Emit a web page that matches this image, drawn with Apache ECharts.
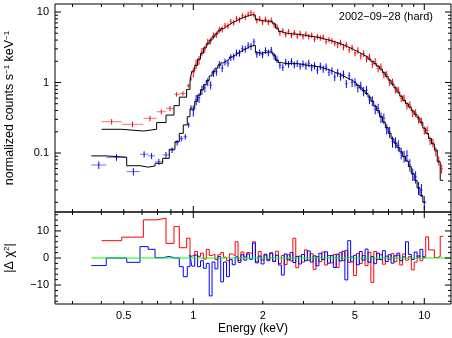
<!DOCTYPE html>
<html>
<head>
<meta charset="utf-8">
<script src="https://cdn.jsdelivr.net/npm/echarts@6/dist/echarts.min.js"></script>
<style>
  html, body { margin: 0; padding: 0; background: #fff; }
  #chart { width: 452px; height: 338px; }
</style>
</head>
<body>
<div id="chart"></div>
<script>
// ---------- data ----------
// fine bins above 1 keV, bin centres in keV
const energy = [
  1.000, 1.029, 1.059, 1.090, 1.122, 1.155, 1.189, 1.223, 1.259, 1.296,
  1.334, 1.372, 1.413, 1.454, 1.496, 1.540, 1.585, 1.631, 1.679, 1.728,
  1.778, 1.830, 1.884, 1.939, 1.995, 2.054, 2.113, 2.175, 2.239, 2.304,
  2.371, 2.441, 2.512, 2.585, 2.661, 2.738, 2.818, 2.901, 2.985, 3.073,
  3.162, 3.255, 3.350, 3.447, 3.548, 3.652, 3.758, 3.868, 3.981, 4.097,
  4.217, 4.340, 4.467, 4.597, 4.732, 4.870, 5.012, 5.158, 5.309, 5.464,
  5.623, 5.788, 5.957, 6.131, 6.310, 6.494, 6.683, 6.879, 7.079, 7.286,
  7.499, 7.718, 7.943, 8.175, 8.414, 8.660, 8.913, 9.173, 9.441, 9.716,
  10.00, 10.29, 10.59, 10.90, 11.22, 11.55, 11.89
]

// red spectrum
const redCounts = [
  1.40, 1.82, 2.08, 2.72, 2.98, 3.72, 3.88, 4.62, 4.78, 5.62,
  5.68, 6.45, 6.35, 7.32, 7.05, 8.05, 7.75, 8.85, 8.45, 9.35,
  9.75, 9.20, 7.55, 8.05, 7.20, 7.85, 7.15, 7.65, 6.55, 6.15,
  5.05, 5.45, 4.80, 5.25, 4.68, 5.10, 4.55, 4.98, 4.48, 4.88,
  4.48, 4.70, 4.12, 4.50, 4.30, 4.42, 3.80, 4.05, 3.90, 3.60,
  3.42, 3.68, 3.18, 3.42, 2.92, 3.12, 2.62, 2.85, 2.38, 2.58,
  2.16, 2.30, 1.82, 1.98, 1.58, 1.66, 1.30, 1.30, 1.01, 1.01,
  0.79, 0.78, 0.60, 0.60, 0.47, 0.48, 0.37, 0.37, 0.30, 0.28,
  0.21, 0.21, 0.15, 0.14, 0.105, 0.078, 0.060
]
const redErrPct = [
  16, 15, 14, 13, 12, 12, 11, 11, 10, 10,
  10, 9, 9, 9, 9, 9, 9, 9, 9, 9,
  9, 9, 9, 9, 9, 9, 9, 9, 9, 9,
  9, 9, 9, 9, 9, 9, 9, 9, 9, 9,
  9, 9, 9, 9, 9, 9, 9, 9, 9, 9,
  10, 10, 10, 10, 10, 10, 10, 11, 11, 11,
  11, 11, 12, 12, 12, 12, 12, 12, 12, 12,
  12, 12, 12, 12, 12, 13, 13, 13, 13, 13,
  13, 14, 14, 14, 15, 15, 15
]
const redModel = [
  1.45, 1.75, 2.15, 2.6, 3.1, 3.55, 4.0, 4.45, 4.9, 5.4,
  5.85, 6.2, 6.6, 7.0, 7.35, 7.7, 8.05, 8.4, 8.7, 8.95,
  9.15, 9.0, 7.8, 7.6, 7.5, 7.45, 7.4, 7.3, 6.8, 5.9,
  5.3, 5.1, 5.0, 4.95, 4.9, 4.87, 4.8, 4.75, 4.7, 4.62,
  4.55, 4.48, 4.42, 4.35, 4.25, 4.15, 4.05, 3.95, 3.83, 3.72,
  3.6, 3.48, 3.35, 3.22, 3.08, 2.95, 2.8, 2.67, 2.53, 2.4,
  2.3, 2.15, 2.0, 1.85, 1.7, 1.55, 1.38, 1.22, 1.08, 0.95,
  0.84, 0.73, 0.64, 0.56, 0.50, 0.45, 0.395, 0.35, 0.315, 0.27,
  0.225, 0.19, 0.16, 0.135, 0.11, 0.075, 0.041
]
const redResid = [
  1.0, 2.4, 0.6, 1.8, -0.4, 3.2, 0.9, 1.5, -0.6, 1.2,
  2.0, 0.3, -1.0, 1.5, 0.8, 6.0, -0.9, 2.2, 0.4, 2.0,
  1.6, 6.0, -1.4, 2.4, -0.8, 1.1, -0.5, 1.8, -1.2, 2.5,
  -2.0, 0.9, -2.4, 1.2, -1.1, 7.3, -3.6, 0.7, -1.5, 3.0,
  -0.8, 1.6, -4.2, 0.5, -1.4, 2.2, -2.6, 0.9, -1.8, 1.3,
  -3.5, 2.0, -1.0, 2.8, -1.6, 0.4, -6.5, 1.7, -2.0, 0.9,
  -2.8, 2.1, -9.0, 2.4, -0.6, 1.2, -2.3, 0.7, -0.4, 1.6,
  -1.4, 1.0, -2.6, 1.5, -0.8, 0.5, -4.4, -1.5, 0.8, -1.0,
  0.6, 7.8, 3.0, 3.0, 0.2, 0.5, 8.0
]
// red wide bins below 1 keV
const redLowEdges = [0.401, 0.49, 0.608, 0.694, 0.762, 0.825, 0.87, 0.936, 0.968, 0.986]
const redLowCounts = [0.278, 0.255, 0.31, 0.385, 0.43, 0.68, 0.70, 0.90, 1.12]
const redLowErrPct = [9, 9, 9, 8, 8, 7, 7, 6, 6]
const redLowModel = [0.217, 0.205, 0.217, 0.27, 0.345, 0.47, 0.62, 0.80, 1.08]
const redLowResid = [6.4, 7.7, 14.1, 14.7, 5.4, 11.6, 3.8, 7.3, 0.5]

// blue spectrum
const blueCounts = [
  0.40, 0.57, 0.61, 0.78, 0.84, 1.02, 0.92, 1.36, 1.42, 1.80,
  1.60, 1.96, 1.88, 2.27, 2.32, 2.64, 2.62, 3.02, 2.98, 3.36,
  3.26, 3.78, 2.52, 2.66, 2.48, 2.84, 2.64, 2.88, 2.36, 2.12,
  1.76, 1.64, 1.95, 1.82, 1.99, 1.78, 1.87, 1.70, 1.85, 1.72,
  1.88, 1.64, 1.74, 1.50, 1.71, 1.56, 1.66, 1.40, 1.47, 1.20,
  1.38, 1.22, 1.31, 0.96, 1.24, 1.00, 1.01, 0.84, 0.90, 0.75,
  0.78, 0.58, 0.55, 0.42, 0.43, 0.32, 0.31, 0.22, 0.20, 0.145,
  0.142, 0.128, 0.100, 0.090, 0.092, 0.068, 0.050, 0.046, 0.032, 0.030,
  0.020
]
const blueErrPct = [
  18, 17, 16, 15, 14, 13, 13, 12, 12, 12,
  12, 11, 11, 11, 11, 11, 11, 11, 11, 11,
  11, 11, 11, 11, 11, 11, 11, 11, 11, 11,
  11, 11, 11, 11, 11, 11, 11, 11, 11, 12,
  12, 12, 12, 12, 12, 12, 12, 12, 12, 13,
  13, 13, 13, 13, 13, 14, 14, 14, 14, 15,
  15, 15, 16, 16, 16, 17, 17, 17, 18, 18,
  18, 18, 19, 19, 19, 20, 20, 20, 21, 21,
  22
]
const blueModel = [
  0.42, 0.54, 0.66, 0.79, 0.93, 1.07, 1.24, 1.42, 1.60, 1.76,
  1.90, 2.02, 2.15, 2.30, 2.45, 2.60, 2.75, 2.90, 3.05, 3.20,
  3.32, 3.35, 2.65, 2.60, 2.65, 2.70, 2.72, 2.70, 2.45, 2.05,
  1.92, 1.87, 1.86, 1.86, 1.87, 1.86, 1.84, 1.81, 1.79, 1.76,
  1.74, 1.72, 1.69, 1.67, 1.63, 1.59, 1.54, 1.49, 1.43, 1.37,
  1.32, 1.27, 1.21, 1.15, 1.10, 1.04, 0.98, 0.91, 0.84, 0.77,
  0.70, 0.62, 0.54, 0.46, 0.40, 0.33, 0.275, 0.23, 0.19, 0.158,
  0.138, 0.12, 0.104, 0.089, 0.077, 0.064, 0.051, 0.041, 0.032, 0.025,
  0.020
]
const blueResid = [
  -3.0, 1.1, -3.2, -1.0, -3.8, -2.0, -14.0, -1.5, -4.0, 0.5,
  -8.8, -1.5, -6.9, -0.6, -2.5, 0.4, -1.6, 1.2, -0.8, 1.5,
  -0.5, 5.5, -1.8, 0.7, -2.2, 1.4, -1.0, 1.9, -1.3, 1.0,
  -2.6, -6.3, 1.5, -0.7, 2.0, -1.7, 0.6, -2.2, 1.3, -1.0,
  2.6, -1.5, 0.8, -2.9, 1.7, -0.6, 2.3, -1.9, 0.9, -3.5,
  1.4, -1.1, 2.5, -8.1, 6.4, -1.4, 1.0, -2.5, 2.4, -0.8,
  3.3, -1.6, 0.5, -2.1, 1.8, -0.6, 2.7, -1.3, 1.2, -1.9,
  0.8, 1.8, -1.0, 0.4, 6.0, 1.3, -0.6, 2.2, 0.3, 3.2,
  0.2
]
// blue wide bins below 1 keV
const blueLowEdges = [0.362, 0.42, 0.515, 0.588, 0.638, 0.683, 0.737, 0.787, 0.833, 0.870, 0.905, 0.942, 0.968, 0.986]
const blueLowCounts = [0.0676, 0.087, 0.0545, 0.096, 0.091, 0.075, 0.094, 0.11, 0.14, 0.16, 0.17, 0.25, 0.44]
const blueLowErrPct = [12, 11, 12, 10, 10, 10, 10, 9, 9, 9, 9, 8, 8]
const blueLowModel = [0.091, 0.087, 0.066, 0.063, 0.0655, 0.0714, 0.084, 0.113, 0.145, 0.19, 0.25, 0.327, 0.42]
const blueLowResid = [-2.8, 0, -1.6, 4.2, 3.2, 0.1, 0.6, 0, 0, -3.2, -6.9, -3.2, 1.1]

// ticks and labels
const xMajorTicks = [1, 10]
const xMinorTicks = [0.3, 0.4, 0.5, 0.6, 0.7, 0.8, 0.9, 2, 3, 4, 5, 6, 7, 8, 9]
const xLabelValues = [0.5, 1, 2, 5, 10]
const xLabelText = ['0.5', '1', '2', '5', '10']
const yMajorTicks = [0.1, 1, 10]
const yMinorTicks = [0.02, 0.03, 0.04, 0.05, 0.06, 0.07, 0.08, 0.09,
  0.2, 0.3, 0.4, 0.5, 0.6, 0.7, 0.8, 0.9, 2, 3, 4, 5, 6, 7, 8, 9]
const yLabelText = ['0.1', '1', '10']
const rMajorTicks = [-10, 0, 10]
const rMinorTicks = [-16, -14, -12, -8, -6, -4, -2, 2, 4, 6, 8, 12, 14, 16]
const rLabelText = ['\u221210', '0', '10']

// ---------- layout ----------
const X_MIN = 0.252, X_MAX = 13.05
const Y_MIN = 0.01456, Y_MAX = 12.99
const R_MIN = -17, R_MAX = 17
const BIN_RATIO = Math.pow(10, 0.00625) // half a fine bin
const FONT = '"Liberation Sans", Arial, sans-serif'

// step line points (left edges, with a last right edge)
function stepData (lowEdges, lowVals, centers, vals) {
  const pts = []
  lowVals.forEach((v, i) => pts.push([lowEdges[i], v]))
  vals.forEach((v, i) => pts.push([centers[i] / BIN_RATIO, v]))
  pts.push([centers[vals.length - 1] * BIN_RATIO, vals[vals.length - 1]])
  return pts
}

// [lo, hi, value, errPct] for every bin
function crossData (lowEdges, lowVals, lowErr, centers, vals, err) {
  const out = []
  lowVals.forEach((v, i) => out.push([lowEdges[i], lowEdges[i + 1], v, lowErr[i]]))
  vals.forEach((v, i) => out.push([centers[i] / BIN_RATIO, centers[i] * BIN_RATIO, v, err[i]]))
  return out
}

function crossRenderer (hColor, vColor) {
  return function (params, api) {
    const lo = api.value(0)
    const hi = api.value(1)
    const v = api.value(2)
    const e = api.value(3) / 100
    const mid = Math.sqrt(lo * hi)
    const a = api.coord([lo, v])
    const b = api.coord([hi, v])
    const c = api.coord([mid, v * (1 - e)])
    const d = api.coord([mid, v * (1 + e)])
    return {
      type: 'group',
      children: [
        { type: 'line', shape: { x1: a[0], y1: a[1], x2: b[0], y2: b[1] }, style: { stroke: hColor, lineWidth: 1 } },
        { type: 'line', shape: { x1: c[0], y1: c[1], x2: d[0], y2: d[1] }, style: { stroke: vColor, lineWidth: 1 } }
      ]
    }
  }
}

// ticks on all four sides, plus labels
function tickRenderer (cfg) {
  return function (params, api) {
    const kids = []
    const line = (x1, y1, x2, y2) => kids.push({
      type: 'line', shape: { x1, y1, x2, y2 }, style: { stroke: '#000', lineWidth: 1 }
    })
    const xt = (vals, len) => vals.forEach(v => {
      const b = api.coord([v, cfg.yLo])
      const t = api.coord([v, cfg.yHi])
      line(b[0], b[1], b[0], b[1] - len)
      line(t[0], t[1], t[0], t[1] + len)
    })
    const yt = (vals, len) => vals.forEach(v => {
      const l = api.coord([X_MIN, v])
      const r = api.coord([X_MAX, v])
      line(l[0], l[1], l[0] + len, l[1])
      line(r[0], r[1], r[0] - len, r[1])
    })
    xt(xMajorTicks, 6)
    xt(xMinorTicks, 3)
    yt(cfg.yMajor, 6)
    yt(cfg.yMinor, 3)
    cfg.yLabels.forEach((s, i) => {
      const p = api.coord([X_MIN, cfg.yMajor[i]])
      kids.push({ type: 'text', style: { text: s, x: p[0] - 6, y: p[1], align: 'right', verticalAlign: 'middle', font: '11px ' + FONT, fill: '#000' } })
    })
    if (cfg.xLabels) {
      xLabelValues.forEach((v, i) => {
        const p = api.coord([v, cfg.yLo])
        kids.push({ type: 'text', style: { text: xLabelText[i], x: p[0], y: p[1] + 6, align: 'center', verticalAlign: 'top', font: '11px ' + FONT, fill: '#000' } })
      })
    }
    return { type: 'group', children: kids }
  }
}

const hiddenAxis = {
  axisLine: { show: false },
  axisTick: { show: false },
  axisLabel: { show: false },
  splitLine: { show: false }
}

const supStyle = { fontSize: 8, verticalAlign: 'top', lineHeight: 8, fontFamily: FONT, color: '#000' }
const gridBase = { left: 55, right: 1, show: true, borderColor: '#000', borderWidth: 1, backgroundColor: 'transparent', outerBoundsMode: 'none', containLabel: false }

const option = {
  animation: false,
  backgroundColor: '#fff',
  textStyle: { fontFamily: FONT },
  grid: [
    { ...gridBase, top: 4, height: 208 },
    { ...gridBase, top: 212, height: 92 }
  ],
  xAxis: [
    { type: 'log', gridIndex: 0, min: X_MIN, max: X_MAX, ...hiddenAxis },
    {
      type: 'log', gridIndex: 1, min: X_MIN, max: X_MAX, ...hiddenAxis,
      name: 'Energy (keV)', nameLocation: 'middle', nameGap: 19,
      nameTextStyle: { fontFamily: FONT, fontSize: 12, color: '#000' }
    }
  ],
  yAxis: [
    {
      type: 'log', gridIndex: 0, min: Y_MIN, max: Y_MAX, ...hiddenAxis,
      name: 'normalized counts s{sup|\u22121} keV{sup|\u22121}',
      nameLocation: 'middle', nameGap: 39, nameRotate: 90,
      nameTextStyle: { fontFamily: FONT, fontSize: 12.5, color: '#000', rich: { sup: supStyle } }
    },
    {
      type: 'value', gridIndex: 1, min: R_MIN, max: R_MAX, ...hiddenAxis,
      name: '|\u0394 \u03c7{sup|2}|',
      nameLocation: 'middle', nameGap: 39, nameRotate: 90,
      nameTextStyle: { fontFamily: FONT, fontSize: 12.5, color: '#000', rich: { sup: supStyle } }
    }
  ],
  graphic: [
    { type: 'text', right: 19, top: 11, style: { text: '2002\u221209\u221228 (hard)', font: '11px ' + FONT, fill: '#000' } }
  ],
  series: [
    {
      name: 'red data', type: 'custom', xAxisIndex: 0, yAxisIndex: 0, z: 2,
      renderItem: crossRenderer('#ff7070', '#ff0000'),
      encode: { x: [0, 1], y: [2] },
      data: crossData(redLowEdges, redLowCounts, redLowErrPct, energy, redCounts, redErrPct)
    },
    {
      name: 'blue data', type: 'custom', xAxisIndex: 0, yAxisIndex: 0, z: 2,
      renderItem: crossRenderer('#7070ff', '#0000ff'),
      encode: { x: [0, 1], y: [2] },
      data: crossData(blueLowEdges, blueLowCounts, blueLowErrPct, energy, blueCounts, blueErrPct)
    },
    {
      name: 'red model', type: 'line', xAxisIndex: 0, yAxisIndex: 0, z: 3,
      step: 'end', showSymbol: false, silent: true,
      lineStyle: { color: '#000', width: 1 },
      data: stepData(redLowEdges, redLowModel, energy, redModel)
    },
    {
      name: 'blue model', type: 'line', xAxisIndex: 0, yAxisIndex: 0, z: 3,
      step: 'end', showSymbol: false, silent: true,
      lineStyle: { color: '#000', width: 1 },
      data: stepData(blueLowEdges, blueLowModel, energy, blueModel)
    },
    {
      name: 'red resid', type: 'line', xAxisIndex: 1, yAxisIndex: 1, z: 2,
      step: 'end', showSymbol: false, silent: true,
      lineStyle: { color: '#ff0000', width: 1 },
      data: stepData(redLowEdges, redLowResid, energy, redResid)
    },
    {
      name: 'blue resid', type: 'line', xAxisIndex: 1, yAxisIndex: 1, z: 3,
      step: 'end', showSymbol: false, silent: true,
      lineStyle: { color: '#0000ff', width: 1 },
      data: stepData(blueLowEdges, blueLowResid, energy, blueResid)
    },
    {
      name: 'zero', type: 'line', xAxisIndex: 1, yAxisIndex: 1, z: 4,
      showSymbol: false, silent: true,
      lineStyle: { color: '#00ff00', width: 1 },
      data: [[blueLowEdges[0], 0], [X_MAX, 0]]
    },
    {
      name: 'top ticks', type: 'custom', xAxisIndex: 0, yAxisIndex: 0, z: 6, silent: true,
      renderItem: tickRenderer({ yLo: Y_MIN, yHi: Y_MAX, yMajor: yMajorTicks, yMinor: yMinorTicks, yLabels: yLabelText, xLabels: false }),
      data: [[1, 1]]
    },
    {
      name: 'bottom ticks', type: 'custom', xAxisIndex: 1, yAxisIndex: 1, z: 6, silent: true,
      renderItem: tickRenderer({ yLo: R_MIN, yHi: R_MAX, yMajor: rMajorTicks, yMinor: rMinorTicks, yLabels: rLabelText, xLabels: true }),
      data: [[1, 0]]
    }
  ]
}

const myChart = echarts.init(document.getElementById('chart'))
myChart.setOption(option)
</script>
</body>
</html>
